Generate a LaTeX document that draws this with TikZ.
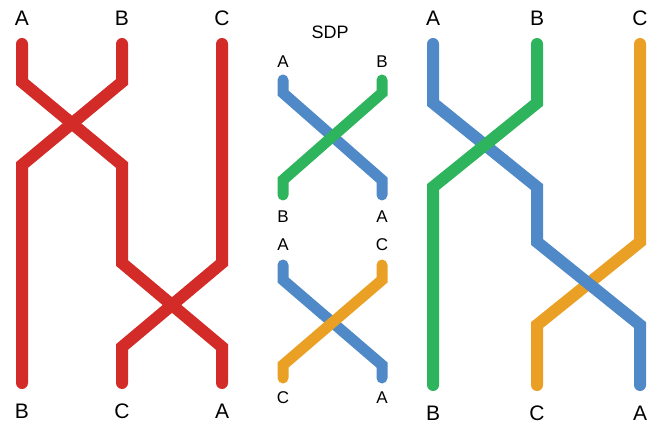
\documentclass[tikz,border=0pt]{standalone}
\usepackage{fontspec}
\setmainfont{Liberation Sans}
\definecolor{strandred}{HTML}{D32B27}
\definecolor{strandblue}{HTML}{4F89C8}
\definecolor{strandgreen}{HTML}{2DB45C}
\definecolor{strandorange}{HTML}{EAA024}
\tikzset{
  strand/.style={line width=12pt, line cap=round, line join=miter},
  thinstrand/.style={line width=11pt, line cap=round, line join=miter},
  biglabel/.style={font=\fontsize{21}{21}\selectfont, inner sep=0pt},
  smalllabel/.style={font=\fontsize{17}{17}\selectfont, inner sep=0pt},
}
\begin{document}
\begin{tikzpicture}[x=1pt,y=-1pt]
\useasboundingbox (0,0) rectangle (660,427);

% ---- left: all-red braid ----
\foreach \n/\t/\x in {lA/A/22, lB/B/122, lC/C/222}
  \node[biglabel] (\n top) at (\x,18) {\t};
\foreach \n/\t/\x in {lB/B/22, lC/C/122, lA/A/222}
  \node[biglabel] (\n bot) at (\x,411) {\t};

\coordinate (l1) at (22,44);   \coordinate (l2) at (122,44);  \coordinate (l3) at (222,44);
\coordinate (l1b) at (22,82);  \coordinate (l2b) at (122,82);
\coordinate (l1c) at (22,165); \coordinate (l2c) at (122,165);
\coordinate (l2d) at (122,263); \coordinate (l3d) at (222,263);
\coordinate (l2e) at (122,347); \coordinate (l3e) at (222,347);
\coordinate (l1f) at (22,383); \coordinate (l2f) at (122,383); \coordinate (l3f) at (222,383);

\draw[strand, strandred] (l1) -- (l1b) -- (l2c) -- (l2d) -- (l3e) -- (l3f);
\draw[strand, strandred] (l2) -- (l2b) -- (l1c) -- (l1f);
\draw[strand, strandred] (l3) -- (l3d) -- (l2e) -- (l2f);

% ---- middle: the two elementary swaps ----
\node[font=\fontsize{18}{18}\selectfont, inner sep=0pt] (sdp) at (330,32) {SDP};

\node[smalllabel] (m1A) at (283,62) {A};
\node[smalllabel] (m1B) at (382,62) {B};
\node[smalllabel] (m1Bb) at (283,217) {B};
\node[smalllabel] (m1Ab) at (382,217) {A};
\node[smalllabel] (m2A) at (283,245) {A};
\node[smalllabel] (m2C) at (382,245) {C};
\node[smalllabel] (m2Cb) at (283,398) {C};
\node[smalllabel] (m2Ab) at (382,398) {A};

\coordinate (u1) at (283,80);  \coordinate (u2) at (382,80);
\coordinate (u1b) at (283,93); \coordinate (u2b) at (382,93);
\coordinate (u1c) at (283,180); \coordinate (u2c) at (382,180);
\coordinate (u1d) at (283,195); \coordinate (u2d) at (382,195);
\draw[thinstrand, strandblue] (u1) -- (u1b) -- (u2c) -- (u2d);
\draw[thinstrand, strandgreen] (u2) -- (u2b) -- (u1c) -- (u1d);

\coordinate (w1) at (283,265);  \coordinate (w2) at (382,265);
\coordinate (w1b) at (283,280); \coordinate (w2b) at (382,280);
\coordinate (w1c) at (283,365); \coordinate (w2c) at (382,365);
\coordinate (w1d) at (283,378); \coordinate (w2d) at (382,378);
\draw[thinstrand, strandblue] (w1) -- (w1b) -- (w2c) -- (w2d);
\draw[thinstrand, strandorange] (w2) -- (w2b) -- (w1c) -- (w1d);

% ---- right: coloured braid ----
\foreach \n/\t/\x in {rA/A/433, rB/B/537, rC/C/640}
  \node[biglabel] (\n top) at (\x,18) {\t};
\foreach \n/\t/\x in {rB/B/433, rC/C/537, rA/A/640}
  \node[biglabel] (\n bot) at (\x,413) {\t};

\coordinate (r1) at (433,44);   \coordinate (r2) at (537,44);  \coordinate (r3) at (640,44);
\coordinate (r1b) at (433,103); \coordinate (r2b) at (537,103);
\coordinate (r1c) at (433,187); \coordinate (r2c) at (537,187);
\coordinate (r2d) at (537,242); \coordinate (r3d) at (640,242);
\coordinate (r2e) at (537,325); \coordinate (r3e) at (640,325);
\coordinate (r1f) at (433,385); \coordinate (r2f) at (537,385); \coordinate (r3f) at (640,385);

\draw[strand, strandorange] (r3) -- (r3d) -- (r2e) -- (r2f);
\draw[strand, strandblue] (r1) -- (r1b) -- (r2c) -- (r2d) -- (r3e) -- (r3f);
\draw[strand, strandgreen] (r2) -- (r2b) -- (r1c) -- (r1f);
\end{tikzpicture}
\end{document}
